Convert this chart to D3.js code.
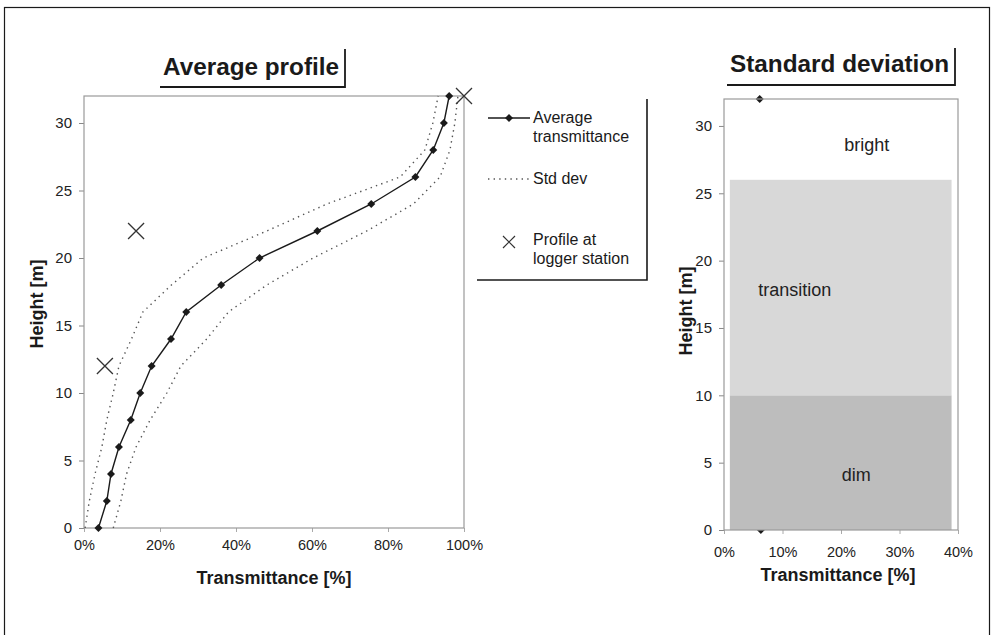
<!DOCTYPE html>
<html>
<head>
<meta charset="utf-8">
<script src="https://cdn.jsdelivr.net/npm/d3@7"></script>
<style>
  body { margin: 0; background: #fff; }
  svg { display: block; font-family: "Liberation Sans", Arial, Helvetica, sans-serif; }
  .tick text { fill: #222; }
</style>
</head>
<body>
<svg id="chart" width="994" height="635"></svg>
<script>
// heights of the measuring points [m]
const heights = [0, 2, 4, 6, 8, 10, 12, 14, 16, 18, 20, 22, 24, 26, 28, 30, 32];
// average transmittance [%]
const avgT = [3.8, 6.0, 7.1, 9.2, 12.3, 14.8, 17.8, 22.9, 26.9, 36.1, 46.2, 61.4, 75.6, 87.2, 91.9, 94.7, 96.1];
// average minus / plus one std dev [%]
const stdLow = [0.3, 1.4, 2.9, 4.7, 6.0, 7.7, 9.2, 12.5, 15.5, 23.0, 31.4, 48.1, 63.9, 83.2, 89.7, 91.8, 93.2];
const stdHigh = [7.7, 9.7, 11.2, 13.7, 17.4, 21.8, 25.5, 32.3, 38.0, 48.1, 60.3, 74.4, 86.7, 93.7, 96.3, 97.6, 98.4];
// profile measured at the logger station
const loggerH = [12, 22, 32];
const loggerT = [5.5, 13.7, 100];

// std dev chart: visible points and light classes
const sdH = [0, 32];
const sdT = [6.3, 6.1];
const zoneNames = ["dim", "transition", "bright"];
const zoneFrom = [0, 10, 26];
const zoneTo = [10, 26, 32];
const zoneFill = ["#bdbdbd", "#d8d8d8", "none"];
const zoneLabelT = [22.6, 12.1, 24.4];
const zoneLabelH = [4.1, 17.8, 28.6];

const xTicksL = [0, 20, 40, 60, 80, 100];
const xTicksR = [0, 10, 20, 30, 40];
const yTicks = [0, 5, 10, 15, 20, 25, 30];

const svg = d3.select("#chart");
const ink = "#1a1a1a";

// outer frame of the figure
svg.append("rect")
    .attr("x", 4.5).attr("y", 7.5)
    .attr("width", 985).attr("height", 640)
    .attr("fill", "none").attr("stroke", ink).attr("stroke-width", 1.2);

function titleBox(txt, x, baseline, w, lineY, top) {
  svg.append("text")
      .attr("x", x).attr("y", baseline)
      .attr("font-size", 24).attr("font-weight", "bold")
      .attr("fill", ink)
      .attr("textLength", w).attr("lengthAdjust", "spacingAndGlyphs")
      .text(txt);
  svg.append("path")
      .attr("d", `M${x - 3},${lineY}H${x + w + 6}V${top}`)
      .attr("fill", "none").attr("stroke", ink).attr("stroke-width", 1.8);
}

function axes(g, x, y, xTicks, fmtX, xLabelY) {
  g.append("g")
      .attr("transform", `translate(${x.range()[0]},0)`)
      .call(d3.axisLeft(y).tickValues(yTicks).tickSize(5).tickPadding(7))
      .call(a => a.select(".domain").remove())
      .call(a => a.selectAll("line").attr("stroke", "#888"))
      .call(a => a.selectAll("text").attr("font-size", 15));
  g.append("g")
      .attr("transform", `translate(0,${y.range()[0]})`)
      .call(d3.axisBottom(x).tickValues(xTicks).tickSize(4).tickPadding(xLabelY).tickFormat(fmtX))
      .call(a => a.select(".domain").remove())
      .call(a => a.selectAll("line").attr("stroke", "#aaa"))
      .call(a => a.selectAll("text").attr("font-size", 14.5));
  // plot border
  g.append("rect")
      .attr("x", x.range()[0]).attr("y", y.range()[1])
      .attr("width", x.range()[1] - x.range()[0])
      .attr("height", y.range()[0] - y.range()[1])
      .attr("fill", "none").attr("stroke", "#9a9a9a").attr("stroke-width", 1.2);
}

const diamond = "M0,-4L4,0L0,4L-4,0Z";
const cross = "M-8,-8L8,8M-8,8L8,-8";

// ---------- Average profile ----------
const xL = d3.scaleLinear().domain([0, 100]).range([84, 464]);
const yL = d3.scaleLinear().domain([0, 32]).range([528, 96]);
const gL = svg.append("g");

titleBox("Average profile", 163, 75, 176, 87, 49);
axes(gL, xL, yL, xTicksL, d => d + "%", 8);

gL.append("text")
    .attr("x", d3.mean(xL.range())).attr("y", 584)
    .attr("text-anchor", "middle").attr("font-size", 18).attr("font-weight", "bold")
    .attr("fill", ink).text("Transmittance [%]");
gL.append("text")
    .attr("transform", "translate(43,304) rotate(-90)")
    .attr("text-anchor", "middle").attr("font-size", 18).attr("font-weight", "bold")
    .attr("fill", ink).text("Height [m]");

const lineL = d3.line().x(d => xL(d[0])).y(d => yL(d[1]));

[stdLow, stdHigh].forEach(s => {
  gL.append("path")
      .attr("d", lineL(s.map((t, i) => [t, heights[i]])))
      .attr("fill", "none").attr("stroke", "#555")
      .attr("stroke-width", 1.4).attr("stroke-dasharray", "1.4,4.2");
});

const avgPts = avgT.map((t, i) => [t, heights[i]]);
gL.append("path")
    .attr("d", lineL(avgPts))
    .attr("fill", "none").attr("stroke", ink).attr("stroke-width", 1.4);
gL.selectAll("path.avg")
    .data(avgPts)
    .join("path")
    .attr("class", "avg")
    .attr("transform", d => `translate(${xL(d[0])},${yL(d[1])})`)
    .attr("d", diamond).attr("fill", ink);

gL.selectAll("path.logger")
    .data(loggerT.map((t, i) => [t, loggerH[i]]))
    .join("path")
    .attr("class", "logger")
    .attr("transform", d => `translate(${xL(d[0])},${yL(d[1])})`)
    .attr("d", cross).attr("stroke", "#333").attr("stroke-width", 1.3).attr("fill", "none");

// legend
const lg = svg.append("g").attr("font-size", 16).attr("fill", ink);
lg.append("path").attr("d", "M477,280H647V99")
    .attr("fill", "none").attr("stroke", ink).attr("stroke-width", 1.6);
lg.append("line").attr("x1", 488).attr("x2", 530).attr("y1", 118).attr("y2", 118)
    .attr("stroke", ink).attr("stroke-width", 1.4);
lg.append("path").attr("transform", "translate(509,118)").attr("d", diamond).attr("fill", ink);
lg.append("text").attr("x", 533).attr("y", 123).text("Average");
lg.append("text").attr("x", 533).attr("y", 142).text("transmittance");
lg.append("line").attr("x1", 488).attr("x2", 530).attr("y1", 179).attr("y2", 179)
    .attr("stroke", "#555").attr("stroke-width", 1.4).attr("stroke-dasharray", "1.4,4.2");
lg.append("text").attr("x", 533).attr("y", 184).text("Std dev");
lg.append("path").attr("transform", "translate(509,242) scale(0.75)").attr("d", cross)
    .attr("stroke", "#333").attr("stroke-width", 1.6).attr("fill", "none");
lg.append("text").attr("x", 533).attr("y", 245).text("Profile at");
lg.append("text").attr("x", 533).attr("y", 264).text("logger station");

// ---------- Standard deviation ----------
const xR = d3.scaleLinear().domain([0, 40]).range([724, 958]);
const yR = d3.scaleLinear().domain([0, 32]).range([530, 99]);
const gR = svg.append("g");

titleBox("Standard deviation", 730, 72, 219, 85, 48);

gR.selectAll("path.sd")
    .data(sdT.map((t, i) => [t, sdH[i]]))
    .join("path")
    .attr("class", "sd")
    .attr("transform", d => `translate(${xR(d[0])},${yR(d[1])})`)
    .attr("d", diamond).attr("fill", ink);

gR.selectAll("rect.zone")
    .data(zoneNames.map((n, i) => ({n, i})))
    .join("rect")
    .attr("class", "zone")
    .attr("x", xR(1)).attr("width", xR(38.9) - xR(1))
    .attr("y", d => yR(zoneTo[d.i]))
    .attr("height", d => yR(zoneFrom[d.i]) - yR(zoneTo[d.i]))
    .attr("fill", d => zoneFill[d.i]);

axes(gR, xR, yR, xTicksR, d => d + "%", 13);

gR.selectAll("text.zone")
    .data(zoneNames.map((n, i) => ({n, i})))
    .join("text")
    .attr("class", "zone")
    .attr("x", d => xR(zoneLabelT[d.i])).attr("y", d => yR(zoneLabelH[d.i]) + 6)
    .attr("text-anchor", "middle").attr("font-size", 18).attr("fill", "#222")
    .text(d => d.n);

gR.append("text")
    .attr("x", d3.mean(xR.range()) - 3).attr("y", 581)
    .attr("text-anchor", "middle").attr("font-size", 18).attr("font-weight", "bold")
    .attr("fill", ink).text("Transmittance [%]");
gR.append("text")
    .attr("transform", "translate(692,311) rotate(-90)")
    .attr("text-anchor", "middle").attr("font-size", 18).attr("font-weight", "bold")
    .attr("fill", ink).text("Height [m]");
</script>
</body>
</html>
